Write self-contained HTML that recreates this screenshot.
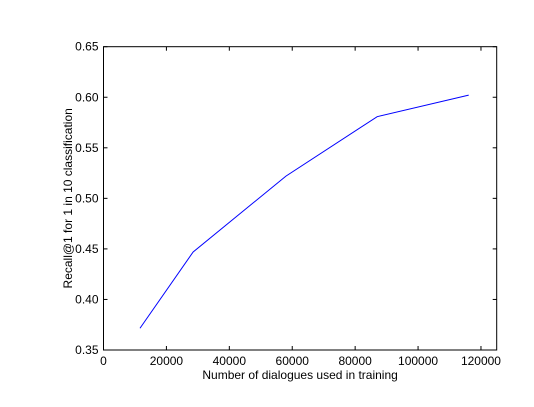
<!DOCTYPE html>
<html><head><meta charset="utf-8"><style>
body{margin:0;background:#fff;}
text{font-family:"Liberation Sans","DejaVu Sans",sans-serif;font-size:12px;fill:#000;}
</style></head><body>
<svg id="chart" width="534" height="402" xmlns="http://www.w3.org/2000/svg">
<rect x="0" y="0" width="534" height="402" fill="#fff"/>
<g id="g"></g>
</svg>
<script>
const xValues=[11600,28500,58000,87000,116100];
const yValues=[0.3715,0.447,0.522,0.5808,0.6021];
const xTicks=[0,20000,40000,60000,80000,100000,120000];
const yTicks=[0.35,0.40,0.45,0.50,0.55,0.60,0.65];
const yTickLabels=["0.35","0.40","0.45","0.50","0.55","0.60","0.65"];
const L=103.5,R=496.7,T=46.7,B=350;
const xMin=0,xMax=125000,yMin=0.35,yMax=0.65;
function sx(v){return L+(v-xMin)/(xMax-xMin)*(R-L);}
function sy(v){return B-(v-yMin)/(yMax-yMin)*(B-T);}
const NS="http://www.w3.org/2000/svg";
const g=document.getElementById('g');
function mk(tag,attrs){const e=document.createElementNS(NS,tag);for(const k in attrs)e.setAttribute(k,attrs[k]);g.appendChild(e);return e;}
xTicks.forEach(v=>{
  const x=sx(v);
  const t1=mk('line',{x1:x,x2:x,y1:B,y2:B-4,stroke:'#000','stroke-width':1});
  
  
  const t2=mk('line',{x1:x,x2:x,y1:T,y2:T+4,stroke:'#000','stroke-width':1});
  
  
  const tx=mk('text',{x:x,y:B+15,'text-anchor':'middle'});
  tx.textContent=String(v);
  
  
});
yTicks.forEach((v,i)=>{
  const y=sy(v);
  const t1=mk('line',{x1:L,x2:L+4,y1:y,y2:y,stroke:'#000','stroke-width':1});
  
  
  const t2=mk('line',{x1:R,x2:R-4,y1:y,y2:y,stroke:'#000','stroke-width':1});
  
  
  const tx=mk('text',{x:L-5,y:y+4,'text-anchor':'end'});
  tx.textContent=yTickLabels[i];
  
  
});
const pts=xValues.map((v,i)=>sx(v)+','+sy(yValues[i])).join(' ');
const line=mk('polyline',{points:pts,fill:'none',stroke:'#0000ff','stroke-width':1});


const frame=mk('rect',{x:L,y:T,width:R-L,height:B-T,fill:'none',stroke:'#000','stroke-width':1});


const xl=mk('text',{x:(L+R)/2,y:379,'text-anchor':'middle'});
xl.textContent='Number of dialogues used in training';


const yl=mk('text',{x:0,y:0,'text-anchor':'middle',transform:'translate(72,'+((T+B)/2)+') rotate(-90)'});
yl.textContent='Recall@1 for 1 in 10 classification';


</script>
</body></html>
